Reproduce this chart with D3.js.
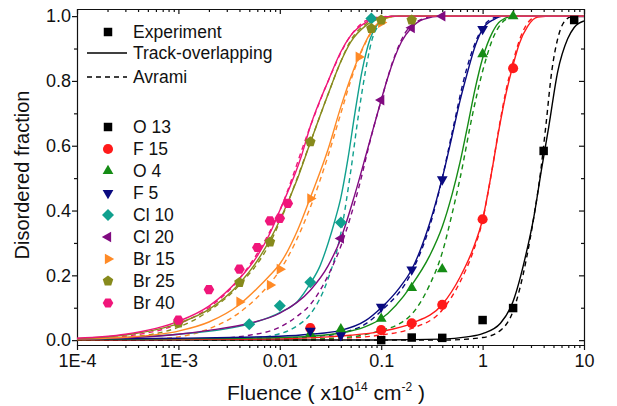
<!DOCTYPE html>
<html>
<head>
<meta charset="utf-8">
<script src="https://cdn.jsdelivr.net/npm/d3@7"></script>
<style>
  body { margin: 0; background: #fff; }
  svg { font-family: "Liberation Sans", Arial, sans-serif; }
</style>
</head>
<body>
<svg id="chart" width="617" height="406"></svg>
<script>
//! DATA
const ions = ['O 13', 'F 15', 'O 4', 'F 5', 'Cl 10', 'Cl 20', 'Br 15', 'Br 25', 'Br 40'];
const xTickValues = [1e-4, 1e-3, 1e-2, 1e-1, 1, 10];
const xTickLabels = ['1E-4', '1E-3', '0.01', '0.1', '1', '10'];
const yTickValues = [0, 0.2, 0.4, 0.6, 0.8, 1.0];

// measured points [fluence, fraction]
const experiment = [
  [[0.1, 0.0], [0.2, 0.008], [0.4, 0.007], [1, 0.062], [2, 0.099], [4, 0.584], [8, 0.988]],
  [[0.02, 0.037], [0.1, 0.031], [0.2, 0.052], [0.4, 0.109], [1, 0.373], [2, 0.839]],
  [[0.02, 0.02], [0.04, 0.034], [0.1, 0.066], [0.2, 0.161], [0.4, 0.219], [1, 0.883], [2, 1.0]],
  [[0.02, 0.029], [0.04, 0.015], [0.1, 0.103], [0.2, 0.218], [0.4, 0.496], [1, 0.96]],
  [[0.005, 0.049], [0.01, 0.106], [0.02, 0.179], [0.04, 0.363], [0.08, 0.993]],
  [[0.04, 0.314], [0.1, 0.741], [0.2, 0.964], [0.4, 1.0]],
  [[0.004, 0.118], [0.008, 0.17], [0.01, 0.219], [0.02, 0.437], [0.06, 0.874], [0.1, 0.98]],
  [[0.001, 0.053], [0.004, 0.178], [0.008, 0.303], [0.02, 0.612], [0.08, 0.962], [0.1, 0.988], [0.2, 0.988]],
  [[0.001, 0.062], [0.002, 0.156], [0.004, 0.219], [0.006, 0.286], [0.008, 0.368], [0.01, 0.376], [0.012, 0.422]]
];

// track-overlapping fit
const trackFit = [
  [[1e-4, 0], [0.1, 0.0005], [0.4, 0.003], [0.7, 0.01], [1, 0.02], [1.5, 0.052], [2, 0.12], [2.7, 0.27], [3.2, 0.38], [3.8, 0.525], [4.5, 0.66], [5.5, 0.828], [6.9, 0.93], [8, 0.965], [10, 0.985]],
  [[1e-4, 0.001], [1e-3, 0.002], [0.01, 0.004], [0.03, 0.01], [0.05, 0.015], [0.1, 0.027], [0.2, 0.052], [0.4, 0.11], [0.6, 0.195], [0.8, 0.28], [1, 0.373], [1.23, 0.52], [1.46, 0.655], [1.7, 0.76], [2, 0.85], [2.3, 0.915], [2.8, 0.97], [3.5, 0.997], [5, 1], [10, 1]],
  [[1e-4, 0.002], [1e-3, 0.004], [0.01, 0.008], [0.02, 0.012], [0.04, 0.022], [0.07, 0.042], [0.1, 0.066], [0.2, 0.17], [0.3, 0.26], [0.4, 0.35], [0.5, 0.45], [0.6, 0.55], [0.71, 0.66], [0.85, 0.78], [1, 0.87], [1.25, 0.95], [1.5, 0.985], [2, 1], [10, 1]],
  [[1e-4, 0.003], [1e-3, 0.006], [0.01, 0.012], [0.02, 0.018], [0.04, 0.03], [0.07, 0.06], [0.1, 0.1], [0.15, 0.16], [0.2, 0.218], [0.3, 0.36], [0.4, 0.5], [0.5, 0.63], [0.6, 0.74], [0.7, 0.82], [0.85, 0.91], [1, 0.96], [1.3, 0.99], [1.6, 1], [10, 1]],
  [[1e-4, 0.003], [1e-3, 0.018], [0.005, 0.05], [0.01, 0.085], [0.015, 0.12], [0.02, 0.175], [0.025, 0.23], [0.03, 0.3], [0.035, 0.37], [0.04, 0.44], [0.047, 0.56], [0.055, 0.7], [0.0645, 0.828], [0.078, 0.931], [0.09, 0.97], [0.12, 0.998], [0.15, 1], [10, 1]],
  [[1e-4, 0.003], [3e-4, 0.007], [1e-3, 0.018], [2e-3, 0.03], [0.005, 0.052], [0.01, 0.083], [0.02, 0.154], [0.03, 0.23], [0.04, 0.314], [0.055, 0.45], [0.072, 0.58], [0.1, 0.741], [0.116, 0.81], [0.158, 0.92], [0.2, 0.965], [0.26, 0.99], [0.4, 1], [10, 1]],
  [[1e-4, 0.004], [3e-4, 0.009], [1e-3, 0.028], [2e-3, 0.056], [0.004, 0.11], [0.006, 0.16], [0.008, 0.2], [0.01, 0.235], [0.015, 0.34], [0.02, 0.44], [0.03, 0.59], [0.04, 0.72], [0.05, 0.81], [0.06, 0.874], [0.07, 0.92], [0.085, 0.965], [0.11, 0.993], [0.15, 1], [10, 1]],
  [[1e-4, 0.005], [3e-4, 0.016], [1e-3, 0.052], [2e-3, 0.095], [0.004, 0.175], [0.006, 0.245], [0.008, 0.31], [0.01, 0.37], [0.015, 0.5], [0.02, 0.61], [0.03, 0.76], [0.04, 0.86], [0.05, 0.92], [0.07, 0.97], [0.1, 0.993], [0.15, 1], [10, 1]],
  [[1e-4, 0.006], [3e-4, 0.018], [1e-3, 0.058], [2e-3, 0.105], [0.004, 0.19], [0.006, 0.26], [0.008, 0.33], [0.01, 0.4], [0.0164, 0.57], [0.02, 0.66], [0.03, 0.8], [0.04, 0.89], [0.05, 0.94], [0.07, 0.98], [0.1, 0.997], [0.15, 1], [10, 1]]
];

// Avrami fit
const avramiFit = [
  [[1e-4, 0], [0.4, 0], [1, 0.008], [1.5, 0.03], [2, 0.09], [2.7, 0.25], [3.2, 0.38], [3.7, 0.51], [4.2, 0.66], [4.8, 0.828], [5.5, 0.93], [6.3, 0.98], [7.5, 0.998], [10, 1]],
  [[1e-4, 0], [0.01, 0.0008], [0.05, 0.007], [0.1, 0.016], [0.2, 0.036], [0.4, 0.093], [0.6, 0.18], [0.8, 0.27], [1, 0.37], [1.23, 0.52], [1.46, 0.66], [1.7, 0.77], [2, 0.86], [2.4, 0.94], [3, 0.99], [3.6, 1], [10, 1]],
  [[1e-4, 0], [0.01, 0.001], [0.05, 0.01], [0.1, 0.03], [0.15, 0.05], [0.2, 0.08], [0.3, 0.17], [0.4, 0.27], [0.5, 0.39], [0.6, 0.5], [0.8, 0.7], [1, 0.83], [1.3, 0.94], [1.7, 0.99], [2.2, 1], [10, 1]],
  [[1e-4, 0], [1e-3, 0.001], [0.01, 0.005], [0.02, 0.01], [0.04, 0.022], [0.07, 0.05], [0.1, 0.09], [0.2, 0.21], [0.3, 0.35], [0.4, 0.5], [0.5, 0.64], [0.7, 0.84], [1, 0.965], [1.3, 0.995], [1.6, 1], [10, 1]],
  [[1e-4, 0], [1e-3, 0.001], [0.005, 0.006], [0.01, 0.02], [0.015, 0.045], [0.02, 0.08], [0.03, 0.19], [0.04, 0.33], [0.05, 0.52], [0.06, 0.7], [0.07, 0.83], [0.08, 0.92], [0.1, 0.98], [0.13, 1], [10, 1]],
  [[1e-4, 0], [1e-3, 0.002], [0.003, 0.007], [0.005, 0.015], [0.01, 0.04], [0.015, 0.075], [0.02, 0.11], [0.03, 0.2], [0.04, 0.29], [0.06, 0.47], [0.08, 0.63], [0.1, 0.74], [0.13, 0.86], [0.17, 0.945], [0.25, 0.99], [0.35, 1], [10, 1]],
  [[1e-4, 0], [5e-4, 0.003], [1e-3, 0.01], [2e-3, 0.035], [0.004, 0.085], [0.008, 0.175], [0.01, 0.215], [0.02, 0.41], [0.03, 0.57], [0.04, 0.7], [0.05, 0.8], [0.06, 0.87], [0.08, 0.95], [0.1, 0.985], [0.14, 1], [10, 1]],
  [[1e-4, 0.001], [3e-4, 0.008], [1e-3, 0.04], [2e-3, 0.09], [0.004, 0.17], [0.008, 0.3], [0.01, 0.365], [0.02, 0.61], [0.03, 0.76], [0.04, 0.86], [0.05, 0.925], [0.07, 0.975], [0.1, 0.997], [0.14, 1], [10, 1]],
  [[1e-4, 0.002], [3e-4, 0.012], [1e-3, 0.05], [2e-3, 0.1], [0.004, 0.19], [0.01, 0.4], [0.02, 0.66], [0.03, 0.8], [0.05, 0.94], [0.07, 0.985], [0.1, 0.998], [0.14, 1], [10, 1]]
];

//! STYLE
const colors = ['#000000', '#ff1a1a', '#158c15', '#0a0a80', '#10a08e', '#800a80', '#ff8a26', '#878a1c', '#f0167a'];
const shapes = ['square', 'circle', 'up', 'down', 'diamond', 'left', 'right', 'pentagon', 'hexagon'];

const svg = d3.select('#chart');

//! SCALES
const x = d3.scaleLog().domain([1e-4, 10]).range([77, 584]);
const y = d3.scaleLinear().domain([-0.015, 1.022]).range([345, 9]);

// marker path centred at 0,0
const polygon = (n, r, rot) => {
  const pts = d3.range(n).map(k => {
    const a = rot + k * 2 * Math.PI / n;
    return [r * Math.cos(a), r * Math.sin(a)];
  });
  return 'M' + pts.map(p => p.join(',')).join('L') + 'Z';
};
const markerPath = (shape) => {
  switch (shape) {
    case 'square': return d3.symbol(d3.symbolSquare, 72)();
    case 'circle': return d3.symbol(d3.symbolCircle, 80)();
    case 'diamond': return polygon(4, 6, 0);
    case 'up': return polygon(3, 6.2, -Math.PI / 2);
    case 'down': return polygon(3, 6.2, Math.PI / 2);
    case 'left': return polygon(3, 6.2, Math.PI);
    case 'right': return polygon(3, 6.2, 0);
    case 'pentagon': return polygon(5, 5.5, -Math.PI / 2);
    case 'hexagon': return polygon(6, 5.3, 0);
  }
};

//! AXES
const axisG = svg.append('g').attr('stroke-width', 1.2);

const minors = [];
for (let e = -4; e < 1; e++) for (let m = 2; m <= 9; m++) minors.push(m * Math.pow(10, e));

axisG.append('g')
  .attr('transform', 'translate(0,345)')
  .call(d3.axisBottom(x).tickValues(xTickValues).tickFormat((d, i) => xTickLabels[i]).tickSize(5).tickPadding(4).tickSizeOuter(0));
axisG.append('g')
  .attr('transform', 'translate(0,345)')
  .call(d3.axisBottom(x).tickValues(minors).tickFormat('').tickSize(3).tickSizeOuter(0))
  .call(g => g.select('.domain').remove());

axisG.append('g')
  .attr('transform', 'translate(0,9)')
  .call(d3.axisBottom(x).tickValues(xTickValues).tickFormat('').tickSize(5).tickSizeOuter(0));
axisG.append('g')
  .attr('transform', 'translate(0,9)')
  .call(d3.axisBottom(x).tickValues(minors).tickFormat('').tickSize(3).tickSizeOuter(0))
  .call(g => g.select('.domain').remove());

axisG.append('g')
  .attr('transform', 'translate(77,0)')
  .call(d3.axisLeft(y).tickValues(yTickValues).tickFormat(d3.format('.1f')).tickSize(5).tickPadding(1).tickSizeOuter(0));
axisG.append('g')
  .attr('transform', 'translate(77,0)')
  .call(d3.axisLeft(y).tickValues([0.1, 0.3, 0.5, 0.7, 0.9]).tickFormat('').tickSize(3).tickSizeOuter(0))
  .call(g => g.select('.domain').remove());

axisG.append('g')
  .attr('transform', 'translate(584,0)')
  .call(d3.axisLeft(y).tickValues(yTickValues).tickFormat('').tickSize(5).tickSizeOuter(0));
axisG.append('g')
  .attr('transform', 'translate(584,0)')
  .call(d3.axisLeft(y).tickValues([0.1, 0.3, 0.5, 0.7, 0.9]).tickFormat('').tickSize(3).tickSizeOuter(0))
  .call(g => g.select('.domain').remove());

axisG.selectAll('text')
  .attr('font-family', '"Liberation Sans", Arial, sans-serif')
  .attr('font-size', 18)
  .attr('fill', '#111');
axisG.selectAll('path, line').attr('stroke', '#111');

//! CURVES
svg.append('clipPath').attr('id', 'plot')
  .append('rect').attr('x', 77).attr('y', 9).attr('width', 507).attr('height', 336);

const line = d3.line()
  .x(d => x(d[0]))
  .y(d => y(d[1]))
  .curve(d3.curveMonotoneX);

const curves = svg.append('g').attr('clip-path', 'url(#plot)').attr('fill', 'none').attr('stroke-width', 1.4);

ions.forEach((ion, i) => {
  curves.append('path')
    .attr('d', line(avramiFit[i]))
    .attr('stroke', colors[i])
    .attr('stroke-dasharray', '5,4');
});
ions.forEach((ion, i) => {
  curves.append('path')
    .attr('d', line(trackFit[i]))
    .attr('stroke', colors[i]);
});

//! POINTS
ions.forEach((ion, i) => {
  svg.append('g')
    .selectAll('path')
    .data(experiment[i])
    .enter()
    .append('path')
    .attr('d', markerPath(shapes[i]))
    .attr('transform', d => `translate(${x(d[0])},${y(d[1])})`)
    .attr('fill', colors[i]);
});

//! LEGEND
const legend = svg.append('g')
  .attr('font-size', 17.5)
  .attr('fill', '#111');

legend.append('path').attr('d', markerPath('square')).attr('transform', 'translate(108,32)').attr('fill', '#000');
legend.append('text').attr('x', 133).attr('y', 38).text('Experiment');
legend.append('line').attr('x1', 87).attr('x2', 127).attr('y1', 53).attr('y2', 53).attr('stroke', '#000').attr('stroke-width', 1.3);
legend.append('text').attr('x', 133).attr('y', 59).text('Track-overlapping');
legend.append('line').attr('x1', 87).attr('x2', 127).attr('y1', 77).attr('y2', 77).attr('stroke', '#000').attr('stroke-width', 1.3).attr('stroke-dasharray', '5,4');
legend.append('text').attr('x', 133).attr('y', 83).text('Avrami');

ions.forEach((ion, i) => {
  const cy = 127 + i * 22;
  legend.append('path').attr('d', markerPath(shapes[i])).attr('transform', `translate(108,${cy})`).attr('fill', colors[i]);
  legend.append('text').attr('x', 133).attr('y', cy + 6).text(ion);
});

//! TITLES
svg.append('text')
  .attr('transform', 'translate(29,175) rotate(-90)')
  .attr('text-anchor', 'middle')
  .attr('font-size', 20)
  .attr('fill', '#111')
  .text('Disordered fraction');

const xTitle = svg.append('text')
  .attr('x', 326)
  .attr('y', 400)
  .attr('text-anchor', 'middle')
  .attr('font-size', 21)
  .attr('fill', '#111');
xTitle.append('tspan').text('Fluence ( x10');
xTitle.append('tspan').attr('font-size', 12).attr('dy', -9).text('14');
xTitle.append('tspan').attr('dy', 9).text(' cm');
xTitle.append('tspan').attr('font-size', 12).attr('dy', -9).text('-2');
xTitle.append('tspan').attr('dy', 9).text(' )');
</script>
</body>
</html>
